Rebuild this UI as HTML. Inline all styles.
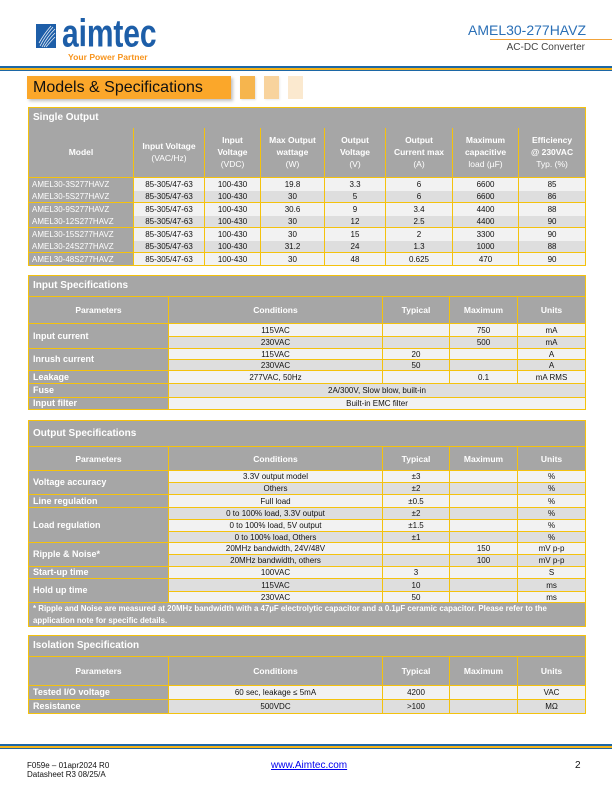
<!DOCTYPE html>
<html><head><meta charset="utf-8">
<style>
*{margin:0;padding:0;box-sizing:border-box}
html,body{width:612px;height:792px}
body{position:relative;overflow:hidden;background:#fff;font-family:"Liberation Sans",Arial,sans-serif;}
.a{position:absolute;white-space:nowrap}
table{position:absolute;border-collapse:collapse;table-layout:fixed;width:557px;left:28px}
td{border:1px solid #f4c20d;padding:0;font-size:8px;line-height:9px;color:#111;text-align:center;vertical-align:middle;overflow:hidden;white-space:nowrap}
tr.l td{background:#f2f2f2}
tr.d td{background:#dedede}
tr td.t{background:#a6a6a6;color:#fff;font-weight:bold;font-size:10px;line-height:12px;text-align:left;padding-left:4px}
tr td.h{background:#a6a6a6;color:#fff;font-weight:bold;font-size:8.5px;line-height:12px}
tr td.h span{font-weight:normal}
tr td.p{background:#a6a6a6;color:#fff;font-weight:bold;font-size:9px;text-align:left;padding-left:4px}
tr td.m{background:#a6a6a6;color:#fff;text-align:left;padding-left:3px}
tr td.n{background:#a6a6a6;color:#fff;font-weight:bold;font-size:7.9px;line-height:11.5px;text-align:left;padding-left:4px;vertical-align:top;padding-top:0px}
</style></head><body>

<!-- logo -->
<svg class="a" style="left:36px;top:24px" width="20" height="24" viewBox="0 0 20 24">
<rect width="20" height="24" fill="#1d5ea8"/>
<g stroke="#fff" stroke-width="0.8" fill="none" opacity="0.9">
<path d="M4 22 Q9 12 17 3"/><path d="M6 23 Q11 13 19 5"/><path d="M8 23 Q13 15 19 9"/><path d="M3 19 Q8 10 15 2"/><path d="M10 23 Q15 17 19 13"/>
</g>
</svg>
<div class="a" style="left:62px;top:22.6px;font-size:30px;line-height:30px;font-weight:bold;color:#1d5ea8;letter-spacing:-0.1px;transform:scale(1,1.3);transform-origin:0 25.4px">aimtec</div>
<div class="a" style="left:68px;top:52px;font-size:8.6px;line-height:10px;font-weight:bold;color:#f7941d">Your Power Partner</div>

<!-- right header -->
<div class="a" style="right:26px;top:22px;font-size:14px;line-height:16px;color:#2a6fb6">AMEL30-277HAVZ</div>
<div class="a" style="left:490px;top:39px;width:122px;height:1px;background:#f2a33a"></div>
<div class="a" style="right:27px;top:42px;font-size:10px;line-height:12px;color:#444">AC-DC Converter</div>

<!-- header lines -->
<div class="a" style="left:0;top:66px;width:612px;height:2px;background:#1c67a6"></div>
<div class="a" style="left:0;top:68px;width:612px;height:1.5px;background:#f4b41a"></div>
<div class="a" style="left:0;top:69.5px;width:612px;height:1.5px;background:#1c67a6"></div>

<!-- section title -->
<div class="a" style="left:27px;top:76px;width:204px;height:23px;background:#fba72a;box-shadow:2px 2px 3px rgba(0,0,0,0.25)"></div>
<div class="a" style="left:33px;top:78px;font-size:16px;line-height:19px;color:#111">Models &amp; Specifications</div>
<div class="a" style="left:240px;top:76px;width:15px;height:23px;background:#f6b54e;box-shadow:1px 1px 2px rgba(0,0,0,0.12)"></div>
<div class="a" style="left:264px;top:76px;width:15px;height:23px;background:#f8d39d;box-shadow:1px 1px 2px rgba(0,0,0,0.08)"></div>
<div class="a" style="left:288px;top:76px;width:15px;height:23px;background:#fbe9cf"></div>

<!-- Models table -->
<table style="top:107px">
<colgroup><col style="width:105px"><col style="width:71px"><col style="width:56px"><col style="width:64px"><col style="width:61px"><col style="width:67px"><col style="width:66px"><col style="width:67px"></colgroup>
<tr style="height:20px"><td class="t" colspan="8" style="border-bottom:hidden">Single Output</td></tr>
<tr style="height:50px">
<td class="h">Model</td>
<td class="h">Input Voltage<br><span>(VAC/Hz)</span></td>
<td class="h">Input<br>Voltage<br><span>(VDC)</span></td>
<td class="h">Max Output<br>wattage<br><span>(W)</span></td>
<td class="h">Output<br>Voltage<br><span>(V)</span></td>
<td class="h">Output<br>Current max<br><span>(A)</span></td>
<td class="h">Maximum<br>capacitive<br><span>load (µF)</span></td>
<td class="h">Efficiency<br>@ 230VAC<br><span>Typ. (%)</span></td>
</tr>
<tr class="l" style="height:13px"><td class="m">AMEL30-3S277HAVZ</td><td>85-305/47-63</td><td>100-430</td><td>19.8</td><td>3.3</td><td>6</td><td>6600</td><td>85</td></tr>
<tr class="d" style="height:12px"><td class="m" style="border-top:hidden">AMEL30-5S277HAVZ</td><td style="border-top:hidden">85-305/47-63</td><td style="border-top:hidden">100-430</td><td style="border-top:hidden">30</td><td style="border-top:hidden">5</td><td style="border-top:hidden">6</td><td style="border-top:hidden">6600</td><td style="border-top:hidden">86</td></tr>
<tr class="l" style="height:13px"><td class="m">AMEL30-9S277HAVZ</td><td>85-305/47-63</td><td>100-430</td><td>30.6</td><td>9</td><td>3.4</td><td>4400</td><td>88</td></tr>
<tr class="d" style="height:12px"><td class="m" style="border-top:hidden">AMEL30-12S277HAVZ</td><td style="border-top:hidden">85-305/47-63</td><td style="border-top:hidden">100-430</td><td style="border-top:hidden">30</td><td style="border-top:hidden">12</td><td style="border-top:hidden">2.5</td><td style="border-top:hidden">4400</td><td style="border-top:hidden">90</td></tr>
<tr class="l" style="height:13px"><td class="m">AMEL30-15S277HAVZ</td><td>85-305/47-63</td><td>100-430</td><td>30</td><td>15</td><td>2</td><td>3300</td><td>90</td></tr>
<tr class="d" style="height:12px"><td class="m" style="border-top:hidden">AMEL30-24S277HAVZ</td><td style="border-top:hidden">85-305/47-63</td><td style="border-top:hidden">100-430</td><td style="border-top:hidden">31.2</td><td style="border-top:hidden">24</td><td style="border-top:hidden">1.3</td><td style="border-top:hidden">1000</td><td style="border-top:hidden">88</td></tr>
<tr class="l" style="height:13px"><td class="m">AMEL30-48S277HAVZ</td><td>85-305/47-63</td><td>100-430</td><td>30</td><td>48</td><td>0.625</td><td>470</td><td>90</td></tr>
</table>

<!-- Input Specifications -->
<table style="top:275px">
<colgroup><col style="width:140px"><col style="width:214px"><col style="width:67px"><col style="width:68px"><col style="width:68px"></colgroup>
<tr style="height:21px"><td class="t" colspan="5">Input Specifications</td></tr>
<tr style="height:27px"><td class="h">Parameters</td><td class="h">Conditions</td><td class="h">Typical</td><td class="h">Maximum</td><td class="h">Units</td></tr>
<tr class="l" style="height:13px"><td class="p" rowspan="2">Input current</td><td>115VAC</td><td></td><td>750</td><td>mA</td></tr>
<tr class="d" style="height:12px"><td>230VAC</td><td></td><td>500</td><td>mA</td></tr>
<tr class="l" style="height:11px"><td class="p" rowspan="2">Inrush current</td><td>115VAC</td><td>20</td><td></td><td>A</td></tr>
<tr class="d" style="height:11px"><td>230VAC</td><td>50</td><td></td><td>A</td></tr>
<tr class="l" style="height:13px"><td class="p">Leakage</td><td>277VAC, 50Hz</td><td></td><td>0.1</td><td>mA RMS</td></tr>
<tr class="d" style="height:14px"><td class="p">Fuse</td><td colspan="4">2A/300V, Slow blow, built-in</td></tr>
<tr class="l" style="height:12px"><td class="p">Input filter</td><td colspan="4">Built-in EMC filter</td></tr>
</table>

<!-- Output Specifications -->
<table style="top:420px">
<colgroup><col style="width:140px"><col style="width:214px"><col style="width:67px"><col style="width:68px"><col style="width:68px"></colgroup>
<tr style="height:26px"><td class="t" colspan="5">Output Specifications</td></tr>
<tr style="height:24px"><td class="h">Parameters</td><td class="h">Conditions</td><td class="h">Typical</td><td class="h">Maximum</td><td class="h">Units</td></tr>
<tr class="l" style="height:12px"><td class="p" rowspan="2">Voltage accuracy</td><td>3.3V output model</td><td>±3</td><td></td><td>%</td></tr>
<tr class="d" style="height:12px"><td>Others</td><td>±2</td><td></td><td>%</td></tr>
<tr class="l" style="height:13px"><td class="p">Line regulation</td><td>Full load</td><td>±0.5</td><td></td><td>%</td></tr>
<tr class="d" style="height:12px"><td class="p" rowspan="3">Load regulation</td><td>0 to 100% load, 3.3V output</td><td>±2</td><td></td><td>%</td></tr>
<tr class="l" style="height:12px"><td>0 to 100% load, 5V output</td><td>±1.5</td><td></td><td>%</td></tr>
<tr class="d" style="height:11px"><td>0 to 100% load, Others</td><td>±1</td><td></td><td>%</td></tr>
<tr class="l" style="height:12px"><td class="p" rowspan="2">Ripple &amp; Noise*</td><td>20MHz bandwidth, 24V/48V</td><td></td><td>150</td><td>mV p-p</td></tr>
<tr class="d" style="height:12px"><td>20MHz bandwidth, others</td><td></td><td>100</td><td>mV p-p</td></tr>
<tr class="l" style="height:12px"><td class="p">Start-up time</td><td>100VAC</td><td>3</td><td></td><td>S</td></tr>
<tr class="d" style="height:13px"><td class="p" rowspan="2">Hold up time</td><td>115VAC</td><td>10</td><td></td><td>ms</td></tr>
<tr class="l" style="height:11px"><td>230VAC</td><td>50</td><td></td><td>ms</td></tr>
<tr style="height:23px"><td class="n" colspan="5">* Ripple and Noise are measured at 20MHz bandwidth with a 47µF electrolytic capacitor and a 0.1µF ceramic capacitor. Please refer to the<br>application note for specific details.</td></tr>
</table>

<!-- Isolation Specification -->
<table style="top:635px">
<colgroup><col style="width:140px"><col style="width:214px"><col style="width:67px"><col style="width:68px"><col style="width:68px"></colgroup>
<tr style="height:21px"><td class="t" colspan="5">Isolation Specification</td></tr>
<tr style="height:29px"><td class="h">Parameters</td><td class="h">Conditions</td><td class="h">Typical</td><td class="h">Maximum</td><td class="h">Units</td></tr>
<tr class="l" style="height:14px"><td class="p">Tested I/O voltage</td><td>60 sec, leakage ≤ 5mA</td><td>4200</td><td></td><td>VAC</td></tr>
<tr class="d" style="height:14px"><td class="p">Resistance</td><td>500VDC</td><td>&gt;100</td><td></td><td>MΩ</td></tr>
</table>

<!-- footer lines -->
<div class="a" style="left:0;top:744px;width:612px;height:2px;background:#1c67a6"></div>
<div class="a" style="left:0;top:746px;width:612px;height:1.5px;background:#f4b41a"></div>
<div class="a" style="left:0;top:747.5px;width:612px;height:1.5px;background:#1c67a6"></div>

<div class="a" style="left:27px;top:761px;font-size:8px;line-height:9px;color:#111">F059e – 01apr2024 R0</div>
<div class="a" style="left:27px;top:770px;font-size:8px;line-height:9px;color:#111">Datasheet R3 08/25/A</div>
<div class="a" style="left:271px;top:760px;font-size:10px;line-height:11px;color:#0000ee;text-decoration:underline">www.Aimtec.com</div>
<div class="a" style="left:575px;top:760px;font-size:10px;line-height:11px;color:#111">2</div>

</body></html>
